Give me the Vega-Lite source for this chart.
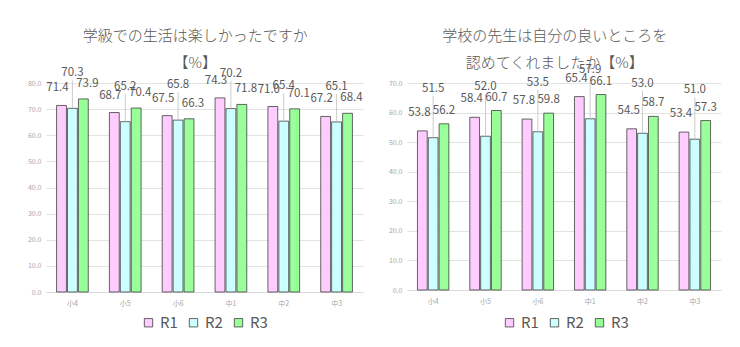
{
  "$schema": "https://vega.github.io/schema/vega-lite/v6.json",
  "background": "white",
  "padding": {"left": 27, "top": 28, "right": 18, "bottom": 0},
  "datasets": {
    "a": [
      {"grade": "小4", "series": "R1", "value": 71.4}, {"grade": "小4", "series": "R2", "value": 70.3}, {"grade": "小4", "series": "R3", "value": 73.9},
      {"grade": "小5", "series": "R1", "value": 68.7}, {"grade": "小5", "series": "R2", "value": 65.2}, {"grade": "小5", "series": "R3", "value": 70.4},
      {"grade": "小6", "series": "R1", "value": 67.5}, {"grade": "小6", "series": "R2", "value": 65.8}, {"grade": "小6", "series": "R3", "value": 66.3},
      {"grade": "中1", "series": "R1", "value": 74.3}, {"grade": "中1", "series": "R2", "value": 70.2}, {"grade": "中1", "series": "R3", "value": 71.8},
      {"grade": "中2", "series": "R1", "value": 71.0}, {"grade": "中2", "series": "R2", "value": 65.4}, {"grade": "中2", "series": "R3", "value": 70.1},
      {"grade": "中3", "series": "R1", "value": 67.2}, {"grade": "中3", "series": "R2", "value": 65.1}, {"grade": "中3", "series": "R3", "value": 68.4}
    ],
    "b": [
      {"grade": "小4", "series": "R1", "value": 53.8}, {"grade": "小4", "series": "R2", "value": 51.5}, {"grade": "小4", "series": "R3", "value": 56.2},
      {"grade": "小5", "series": "R1", "value": 58.4}, {"grade": "小5", "series": "R2", "value": 52.0}, {"grade": "小5", "series": "R3", "value": 60.7},
      {"grade": "小6", "series": "R1", "value": 57.8}, {"grade": "小6", "series": "R2", "value": 53.5}, {"grade": "小6", "series": "R3", "value": 59.8},
      {"grade": "中1", "series": "R1", "value": 65.4}, {"grade": "中1", "series": "R2", "value": 57.9}, {"grade": "中1", "series": "R3", "value": 66.1},
      {"grade": "中2", "series": "R1", "value": 54.5}, {"grade": "中2", "series": "R2", "value": 53.0}, {"grade": "中2", "series": "R3", "value": 58.7},
      {"grade": "中3", "series": "R1", "value": 53.4}, {"grade": "中3", "series": "R2", "value": 51.0}, {"grade": "中3", "series": "R3", "value": 57.3}
    ]
  },
  "spacing": 25,
  "resolve": {
    "scale": {"color": "independent", "y": "independent", "x": "independent", "xOffset": "independent"},
    "legend": {"color": "independent"}
  },
  "hconcat": [
    {
      "width": 317,
      "height": 209,
      "data": {"name": "a"},
      "title": {"text": ["学級での生活は楽しかったですか", "【%】"], "offset": -4},
      "encoding": {
        "x": {"field": "grade", "type": "nominal", "sort": ["小4", "小5", "小6", "中1", "中2", "中3"],
              "scale": {"paddingInner": 0.4, "paddingOuter": 0.2}, "axis": {"title": null}},
        "xOffset": {"field": "series", "type": "nominal", "scale": {"paddingInner": 0.1}},
        "y": {"field": "value", "type": "quantitative", "scale": {"domain": [0, 80], "nice": false},
              "axis": {"title": null, "values": [0, 10, 20, 30, 40, 50, 60, 70, 80]}}
      },
      "layer": [
        {
          "mark": {"type": "bar", "stroke": "#404040", "strokeWidth": 0.8},
          "encoding": {
            "color": {"field": "series", "type": "nominal",
                      "scale": {"domain": ["R1", "R2", "R3"], "range": ["#FFCCFF", "#CCFFFF", "#99FF99"]},
                      "legend": {"orient": "none", "legendX": 95, "legendY": 232}}
          }
        },
        {
          "transform": [{"filter": "datum.series === 'R2'"}],
          "mark": {"type": "rule", "y2Offset": -28, "color": "#bfbfbf", "strokeWidth": 0.8},
          "encoding": {"y2": {"field": "value"}}
        },
        {
          "transform": [{"filter": "datum.series === 'R1'"}],
          "mark": {"type": "text", "dy": -17, "dx": -4},
          "encoding": {"text": {"field": "value", "format": ".1f"}}
        },
        {
          "transform": [{"filter": "datum.series === 'R2'"}],
          "mark": {"type": "text", "dy": -35},
          "encoding": {"text": {"field": "value", "format": ".1f"}}
        },
        {
          "transform": [{"filter": "datum.series === 'R3'"}],
          "mark": {"type": "text", "dy": -15, "dx": 4},
          "encoding": {"text": {"field": "value", "format": ".1f"}}
        }
      ]
    },
    {
      "width": 314,
      "height": 207,
      "data": {"name": "b"},
      "title": {"text": ["学校の先生は自分の良いところを", "認めてくれましたか【%】"], "offset": -7},
      "encoding": {
        "x": {"field": "grade", "type": "nominal", "sort": ["小4", "小5", "小6", "中1", "中2", "中3"],
              "scale": {"paddingInner": 0.4, "paddingOuter": 0.2}, "axis": {"title": null}},
        "xOffset": {"field": "series", "type": "nominal", "scale": {"paddingInner": 0.1}},
        "y": {"field": "value", "type": "quantitative", "scale": {"domain": [0, 70], "nice": false},
              "axis": {"title": null, "values": [0, 10, 20, 30, 40, 50, 60, 70]}}
      },
      "layer": [
        {
          "mark": {"type": "bar", "stroke": "#404040", "strokeWidth": 0.8},
          "encoding": {
            "color": {"field": "series", "type": "nominal",
                      "scale": {"domain": ["R1", "R2", "R3"], "range": ["#FFCCFF", "#CCFFFF", "#99FF99"]},
                      "legend": {"orient": "none", "legendX": 95, "legendY": 232}}
          }
        },
        {
          "transform": [{"filter": "datum.series === 'R2'"}],
          "mark": {"type": "rule", "y2Offset": -42, "color": "#bfbfbf", "strokeWidth": 0.8},
          "encoding": {"y2": {"field": "value"}}
        },
        {
          "transform": [{"filter": "datum.series === 'R1'"}],
          "mark": {"type": "text", "dy": -18, "dx": -3},
          "encoding": {"text": {"field": "value", "format": ".1f"}}
        },
        {
          "transform": [{"filter": "datum.series === 'R2'"}],
          "mark": {"type": "text", "dy": -49},
          "encoding": {"text": {"field": "value", "format": ".1f"}}
        },
        {
          "transform": [{"filter": "datum.series === 'R3'"}],
          "mark": {"type": "text", "dy": -13},
          "encoding": {"text": {"field": "value", "format": ".1f"}}
        }
      ]
    }
  ],
  "config": {
    "view": {"stroke": null},
    "font": "Noto Sans CJK JP",
    "title": {"fontSize": 15, "fontWeight": 300, "color": "#595959", "lineHeight": 27, "anchor": "middle", "frame": "bounds", "font": "Noto Sans CJK JP"},
    "text": {"font": "Noto Sans CJK JP", "fontSize": 11.5, "color": "#595959", "baseline": "middle"},
    "axisY": {"labelFontSize": 7, "labelColor": "#a6a6a6", "domain": false, "ticks": false, "gridColor": "#e3e3e3", "labelPadding": 5, "format": ".1f"},
    "axisX": {"labelFontSize": 7, "labelColor": "#a6a6a6", "ticks": false, "domainColor": "#d9d9d9", "labelAngle": 0, "labelPadding": 7, "grid": false},
    "legend": {"title": null, "direction": "horizontal", "symbolType": "square", "symbolSize": 70, "labelFontSize": 15, "labelColor": "#595959",
               "symbolStrokeColor": "#404040", "symbolStrokeWidth": 0.8, "symbolOpacity": 1, "columnPadding": 8, "labelOffset": 4, "labelFont": "Noto Sans CJK JP"}
  }
}
